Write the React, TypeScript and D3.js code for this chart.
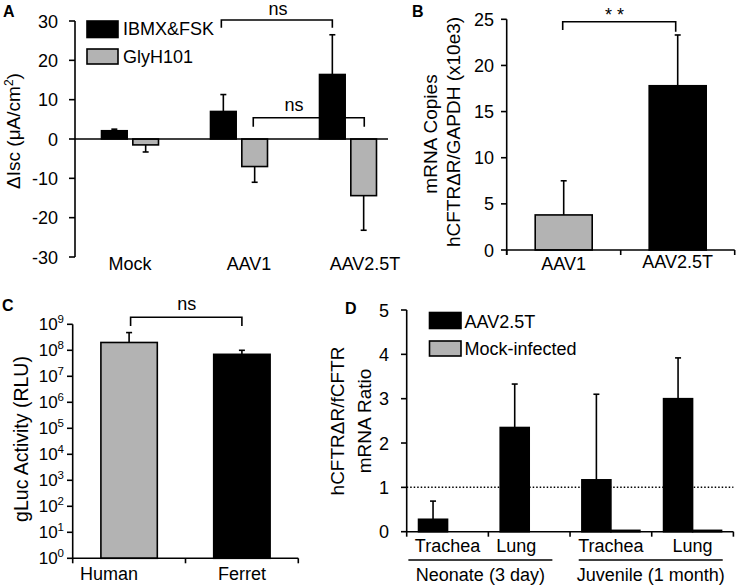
import React from 'react';
import * as d3 from 'd3';

// ---------- Panel A data ----------
const aCategories = ['Mock', 'AAV1', 'AAV2.5T'];
const aSeries = ['IBMX&FSK', 'GlyH101'];
const aIbmx = [2.1, 7.0, 16.4];
const aIbmxErr = [0.4, 4.3, 10.1];
const aGly = [-1.5, -7.0, -14.4];
const aGlyErr = [1.8, 4.0, 8.8];
const aTicks = [-30, -20, -10, 0, 10, 20, 30];

// ---------- Panel B data ----------
const bCategories = ['AAV1', 'AAV2.5T'];
const bValues = [3.8, 17.8];
const bErr = [3.7, 5.5];
const bTicks = [0, 5, 10, 15, 20, 25];

// ---------- Panel C data ----------
const cCategories = ['Human', 'Ferret'];
const cValues = [2.0e8, 7.0e7];
const cErrTop = [4.8e8, 1.0e8];
const cTickExps = [0, 1, 2, 3, 4, 5, 6, 7, 8, 9];

// ---------- Panel D data ----------
const dTissues = ['Trachea', 'Lung', 'Trachea', 'Lung'];
const dGroups = ['Neonate (3 day)', 'Juvenile (1 month)'];
const dSeries = ['AAV2.5T', 'Mock-infected'];
const dAav = [0.28, 2.35, 1.17, 3.0];
const dAavErr = [0.41, 0.98, 1.93, 0.92];
const dMock = [0, 0, 0.03, 0.03];
const dTicks = [0, 1, 2, 3, 4, 5];
const dReference = 1;

const BLACK = '#000000';
const GRAY = '#b3b3b3';
const FONT = '"Liberation Sans", Arial, Helvetica, sans-serif';
const SW = 1.6;

function ErrBar({ x, y1, y2, cap = 6 }: { x: number; y1: number; y2: number; cap?: number }) {
  return (
    <g stroke={BLACK} strokeWidth={SW}>
      <line x1={x} x2={x} y1={y1} y2={y2} />
      <line x1={x - cap / 2} x2={x + cap / 2} y1={y2} y2={y2} />
    </g>
  );
}

function Bracket({ x1, x2, y, d1, d2, label, lx, ly, spacing = 0 }: any) {
  return (
    <g>
      <path d={`M${x1},${y + d1}V${y}H${x2}V${y + d2}`} fill="none" stroke={BLACK} strokeWidth={SW} />
      <text x={lx} y={ly} textAnchor="middle" fontSize={18} letterSpacing={spacing}>{label}</text>
    </g>
  );
}

function PanelA() {
  const x = d3.scaleBand().domain(aCategories).range([75.5, 402.5]);
  const inner = d3.scaleBand().domain(aSeries).range([-28.5, 28.5]).paddingInner(0.18);
  const y = d3.scaleLinear().domain([-30, 30]).range([257, 21]);
  const bw = inner.bandwidth();
  const axisX = 75;
  const labelShift = [0, 10, 17];
  const cx = (c: string) => (x(c) as number) + x.bandwidth() / 2;
  const series = [
    { name: aSeries[0], vals: aIbmx, errs: aIbmxErr, fill: BLACK, sign: 1 },
    { name: aSeries[1], vals: aGly, errs: aGlyErr, fill: GRAY, sign: -1 },
  ];
  const barMid = (c: string, s: string) => cx(c) + (inner(s) as number) + bw / 2;
  return (
    <g>
      <text x={3} y={17} fontSize={16} fontWeight="bold">A</text>
      {series.map((s) =>
        aCategories.map((c, i) => {
          const v = s.vals[i];
          const x0 = cx(c) + (inner(s.name) as number);
          return (
            <g key={s.name + c}>
              <ErrBar x={x0 + bw / 2} y1={y(v)} y2={y(v + s.sign * s.errs[i])} />
              <rect x={x0} width={bw} y={Math.min(y(v), y(0))} height={Math.abs(y(v) - y(0))}
                fill={s.fill} stroke={BLACK} strokeWidth={SW} />
            </g>
          );
        })
      )}
      {/* axes */}
      <line x1={axisX} x2={axisX} y1={y(30)} y2={y(-30)} stroke={BLACK} strokeWidth={SW} />
      <line x1={axisX} x2={388} y1={y(0)} y2={y(0)} stroke={BLACK} strokeWidth={SW} />
      {aTicks.map((t) => (
        <g key={t}>
          <line x1={axisX - 6} x2={axisX} y1={y(t)} y2={y(t)} stroke={BLACK} strokeWidth={SW} />
          <text x={58} y={y(t) + 6.5} textAnchor="end" fontSize={18}>{t}</text>
        </g>
      ))}
      {aCategories.map((c, i) => (
        <text key={c} x={cx(c) + labelShift[i]} y={270} textAnchor="middle" fontSize={18}>{c}</text>
      ))}
      <text transform={`translate(19.5,131) rotate(-90)`} textAnchor="middle" fontSize={19}>
        ΔIsc (μA/cm<tspan dy={-7} fontSize={12}>2</tspan><tspan dy={7}>)</tspan>
      </text>
      {/* legend */}
      <rect x={87} y={21} width={31} height={16.5} fill={BLACK} stroke={BLACK} strokeWidth={SW} />
      <text x={123} y={35} fontSize={18}>{aSeries[0]}</text>
      <rect x={87} y={49} width={31} height={15} fill={GRAY} stroke={BLACK} strokeWidth={SW} />
      <text x={123} y={63} fontSize={18}>{aSeries[1]}</text>
      {/* significance brackets */}
      <Bracket x1={barMid('AAV1', aSeries[0]) - 2} x2={barMid('AAV2.5T', aSeries[0])} y={20} d1={7.7} d2={7.7}
        label="ns" lx={278} ly={15} />
      <Bracket x1={barMid('AAV1', aSeries[1]) - 1.4} x2={barMid('AAV2.5T', aSeries[1]) + 0.6} y={117.7} d1={9} d2={9}
        label="ns" lx={294} ly={111} />
    </g>
  );
}

function PanelB() {
  const x = d3.scaleBand().domain(bCategories).range([506.7, 734.7]).paddingInner(0.5).paddingOuter(0.25);
  const y = d3.scaleLinear().domain([0, 25]).range([250, 19.3]);
  const fills = [GRAY, BLACK];
  const labelY = [270, 268];
  const step = x.step();
  const bounds = [506.7, 506.7 + step, 506.7 + 2 * step];
  const mid = (c: string) => (x(c) as number) + x.bandwidth() / 2;
  return (
    <g>
      <text x={412} y={17} fontSize={16} fontWeight="bold">B</text>
      {bCategories.map((c, i) => (
        <g key={c}>
          <ErrBar x={mid(c)} y1={y(bValues[i])} y2={y(bValues[i] + bErr[i])} />
          <rect x={x(c)} width={x.bandwidth()} y={y(bValues[i])} height={y(0) - y(bValues[i])}
            fill={fills[i]} stroke={BLACK} strokeWidth={SW} />
        </g>
      ))}
      <line x1={506.7} x2={506.7} y1={y(25)} y2={y(0) + 5} stroke={BLACK} strokeWidth={SW} />
      <line x1={506.7} x2={734.7} y1={y(0)} y2={y(0)} stroke={BLACK} strokeWidth={SW} />
      {bounds.map((b) => (
        <line key={b} x1={b} x2={b} y1={y(0)} y2={y(0) + 5} stroke={BLACK} strokeWidth={SW} />
      ))}
      {bTicks.map((t) => (
        <g key={t}>
          <line x1={501} x2={506.7} y1={y(t)} y2={y(t)} stroke={BLACK} strokeWidth={SW} />
          <text x={494} y={y(t) + 6.5} textAnchor="end" fontSize={18}>{t}</text>
        </g>
      ))}
      {bCategories.map((c, i) => (
        <text key={c} x={mid(c)} y={labelY[i]} textAnchor="middle" fontSize={18}>{c}</text>
      ))}
      <text transform="translate(436.5,134) rotate(-90)" textAnchor="middle" fontSize={19}>mRNA Copies</text>
      <text transform="translate(459.5,132) rotate(-90)" textAnchor="middle" fontSize={19}>hCFTRΔR/GAPDH (x10e3)</text>
      <Bracket x1={mid(bCategories[0]) - 1} x2={mid(bCategories[1]) - 2} y={21.7} d1={8.3} d2={10}
        label="**" lx={617} ly={21} spacing={5} />
    </g>
  );
}

function PanelC() {
  const x = d3.scaleBand().domain(cCategories).range([72.7, 298.3]).paddingInner(0.5).paddingOuter(0.25);
  const y = d3.scaleLog().domain([1, 1e9]).range([558.3, 324.3]);
  const fills = [GRAY, BLACK];
  const labelShift = [-20, 0];
  const step = x.step();
  const bounds = [72.7 + step, 72.7 + 2 * step];
  const mid = (c: string) => (x(c) as number) + x.bandwidth() / 2;
  return (
    <g>
      <text x={2} y={311} fontSize={16} fontWeight="bold">C</text>
      {cCategories.map((c, i) => (
        <g key={c}>
          <ErrBar x={mid(c)} y1={y(cValues[i])} y2={y(cErrTop[i])} />
          <rect x={x(c)} width={x.bandwidth()} y={y(cValues[i])} height={y(1) - y(cValues[i])}
            fill={fills[i]} stroke={BLACK} strokeWidth={SW} />
        </g>
      ))}
      <line x1={72.7} x2={72.7} y1={y(1e9)} y2={y(1) + 5} stroke={BLACK} strokeWidth={SW} />
      <line x1={72.7} x2={298.3} y1={y(1)} y2={y(1)} stroke={BLACK} strokeWidth={SW} />
      {bounds.map((b) => (
        <line key={b} x1={b} x2={b} y1={y(1)} y2={y(1) + 5} stroke={BLACK} strokeWidth={SW} />
      ))}
      {cTickExps.map((e) => (
        <g key={e}>
          <line x1={67} x2={72.7} y1={y(Math.pow(10, e))} y2={y(Math.pow(10, e))} stroke={BLACK} strokeWidth={SW} />
          <text x={64} y={y(Math.pow(10, e)) + 6} textAnchor="end" fontSize={17}>
            10<tspan dy={-7} fontSize={11.5}>{e}</tspan>
          </text>
        </g>
      ))}
      {cCategories.map((c, i) => (
        <text key={c} x={mid(c) + labelShift[i]} y={580} textAnchor="middle" fontSize={18}>{c}</text>
      ))}
      <text transform="translate(27.5,439) rotate(-90)" textAnchor="middle" fontSize={19.5}>gLuc Activity (RLU)</text>
      <Bracket x1={mid(cCategories[0]) + 1.5} x2={mid(cCategories[1])} y={317.3} d1={8.7} d2={8.7}
        label="ns" lx={186.7} ly={310} />
    </g>
  );
}

function PanelD() {
  const idx = dTissues.map((_, i) => String(i));
  const x = d3.scaleBand().domain(idx).range([406.7, 733.4]);
  const inner = d3.scaleBand().domain(dSeries).range([-29, 29]);
  const y = d3.scaleLinear().domain([0, 5]).range([531.7, 310]);
  const bw = inner.bandwidth();
  const labelShift = [0, -13, 0, 0];
  const groupShift = [-8, -1];
  const step = x.step();
  const mid = (k: string) => (x(k) as number) + step / 2;
  const bounds = [1, 2, 3, 4].map((k) => 406.7 + k * step);
  const series = [
    { name: dSeries[0], vals: dAav, fill: BLACK },
    { name: dSeries[1], vals: dMock, fill: GRAY },
  ];
  return (
    <g>
      <text x={345} y={314} fontSize={16} fontWeight="bold">D</text>
      <line x1={406.7} x2={733.4} y1={y(dReference)} y2={y(dReference)} stroke={BLACK} strokeWidth={1.5}
        strokeDasharray="1.5,2" />
      {series.map((s) =>
        idx.map((k, i) => {
          const x0 = mid(k) + (inner(s.name) as number);
          const v = s.vals[i];
          if (v <= 0) return null;
          return (
            <rect key={s.name + k} x={x0} width={bw} y={y(v)} height={y(0) - y(v)}
              fill={s.fill} stroke={BLACK} strokeWidth={SW} />
          );
        })
      )}
      {idx.map((k, i) => {
        const x0 = mid(k) + (inner(dSeries[0]) as number) + bw / 2;
        return <ErrBar key={'e' + k} x={x0} y1={y(dAav[i])} y2={y(dAav[i] + dAavErr[i])} />;
      })}
      <line x1={406.7} x2={406.7} y1={y(5)} y2={y(0) + 5} stroke={BLACK} strokeWidth={SW} />
      <line x1={406.7} x2={733.4} y1={y(0)} y2={y(0)} stroke={BLACK} strokeWidth={SW} />
      {bounds.map((b) => (
        <line key={b} x1={b} x2={b} y1={y(0)} y2={y(0) + 5} stroke={BLACK} strokeWidth={SW} />
      ))}
      {dTicks.map((t) => (
        <g key={t}>
          <line x1={401} x2={406.7} y1={y(t)} y2={y(t)} stroke={BLACK} strokeWidth={SW} />
          <text x={389} y={y(t) + 6.5} textAnchor="end" fontSize={18}>{t}</text>
        </g>
      ))}
      {idx.map((k, i) => (
        <text key={'t' + k} x={mid(k) + labelShift[i]} y={551.7} textAnchor="middle" fontSize={18}>{dTissues[i]}</text>
      ))}
      {dGroups.map((g, gi) => {
        const c = 406.7 + (gi * 2 + 1) * step + groupShift[gi];
        return (
          <g key={g}>
            <line x1={c - 72} x2={c + 72} y1={560} y2={560} stroke={BLACK} strokeWidth={SW} />
            <text x={c} y={580.5} textAnchor="middle" fontSize={18}>{g}</text>
          </g>
        );
      })}
      <text transform="translate(344,421) rotate(-90)" textAnchor="middle" fontSize={19}>hCFTRΔR/fCFTR</text>
      <text transform="translate(371,421) rotate(-90)" textAnchor="middle" fontSize={19}>mRNA Ratio</text>
      {/* legend */}
      <rect x={429.5} y={312.5} width={31.5} height={16} fill={BLACK} stroke={BLACK} strokeWidth={SW} />
      <text x={464.5} y={327.5} fontSize={18}>{dSeries[0]}</text>
      <rect x={429.5} y={341} width={31.5} height={15} fill={GRAY} stroke={BLACK} strokeWidth={SW} />
      <text x={464.5} y={355} fontSize={18}>{dSeries[1]}</text>
    </g>
  );
}

export default function App() {
  return (
    <svg width={736} height={587} viewBox="0 0 736 587"
      style={{ position: 'absolute', left: 0, top: 0, background: '#fff' }}
      fontFamily={FONT} fill={BLACK}>
      <rect x={0} y={0} width={736} height={587} fill="#fff" />
      <PanelA />
      <PanelB />
      <PanelC />
      <PanelD />
    </svg>
  );
}
